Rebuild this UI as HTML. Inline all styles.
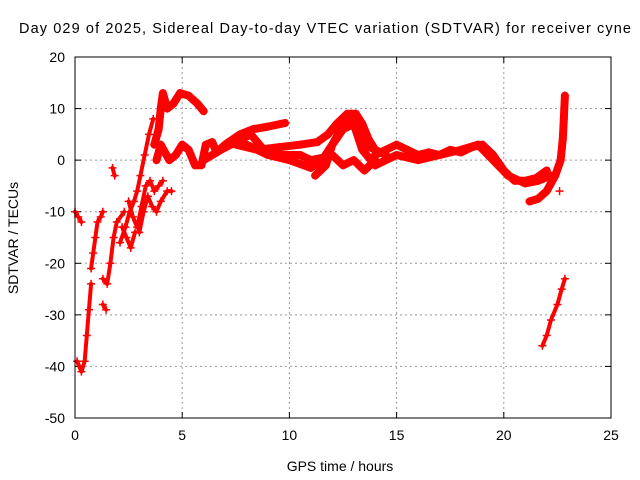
<!DOCTYPE html>
<html><head><meta charset="utf-8"><style>
body{margin:0;background:#fff}
svg{display:block;font-family:"Liberation Sans",sans-serif}
</style></head><body>
<svg id="c" width="640" height="480">
<text x="19" y="33" font-size="14.5" textLength="612" lengthAdjust="spacing">Day 029 of 2025, Sidereal Day-to-day VTEC variation (SDTVAR) for receiver cyne</text>
<text x="340" y="471" font-size="14" text-anchor="middle">GPS time / hours</text>
<text transform="translate(18,238) rotate(-90)" font-size="14" text-anchor="middle">SDTVAR / TECUs</text>
<g id="grid"></g><g id="marks"></g>
<rect x="75" y="57" width="536" height="361" fill="none" stroke="#000" stroke-width="1"/>
</svg>
<script>
const xTicks=[0,5,10,15,20,25];
const yTicks=[20,10,0,-10,-20,-30,-40,-50];
const trackEarly1=[[0,-10],[0.15,-11],[0.3,-12]];
const trackEarly2=[[0.1,-39],[0.3,-41],[0.45,-39],[0.55,-34],[0.65,-29],[0.75,-24]];
const trackEarly3=[[0.75,-21],[0.85,-18],[0.95,-15],[1.05,-12],[1.2,-11],[1.3,-10]];
const trackEarly4=[[1.3,-23],[1.5,-24],[1.65,-20],[1.8,-15],[1.95,-12],[2.3,-10]];
const trackEarly5=[[1.3,-28],[1.45,-29]];
const trackEarly6=[[1.75,-1.5],[1.85,-3]];
const trackEarly7=[[2.1,-16],[2.35,-13],[2.55,-10],[2.75,-8],[2.9,-6],[3.05,-3],[3.25,1],[3.45,5],[3.65,8]];
const trackEarly8=[[3.0,-14],[3.2,-10],[3.4,-7],[3.6,-9],[3.8,-10],[4.0,-8],[4.3,-6],[4.5,-6]];
const trackEarly11=[[2.5,-8],[2.7,-11],[2.9,-13],[3.1,-9],[3.3,-5],[3.5,-4],[3.7,-6],[3.9,-5],[4.1,-4]];
const trackEarly12=[[2.2,-13],[2.4,-15],[2.6,-17],[2.8,-14]];
const trackEarly9=[[3.7,3],[3.9,6],[4.0,10],[4.1,13],[4.3,10],[4.6,11],[4.9,13],[5.3,12.5],[5.7,11],[6.0,9.5]];
const trackEarly10=[[3.8,0],[4.0,3],[4.4,0],[4.7,1],[5.0,3],[5.3,2],[5.6,-1],[5.9,-1],[6.1,3],[6.4,3.5],[6.6,1.5]];
const trackA=[[6.6,1.5],[7.0,3],[7.7,5],[8.3,6],[9.0,6.5],[9.8,7.2]];
const trackB=[[6.0,0],[6.8,2],[7.5,3.5],[8.2,5],[8.8,2],[9.5,1],[10.5,1],[11.0,0],[11.6,0.5],[12.0,3],[12.4,6],[12.8,8],[13.2,6],[13.5,3],[14.0,2],[14.5,1]];
const trackC=[[7.5,3],[8.5,2],[9.5,2.5],[10.5,3],[11.3,3.5],[11.8,5],[12.2,7],[12.7,9],[13.1,9],[13.4,7],[13.7,4],[14.0,2]];
const trackD=[[8.0,3],[9.0,1],[10.0,0],[11.0,-1.5],[11.5,0],[12.0,1],[12.5,-1],[13.0,0],[13.5,-2],[14.0,0]];
const trackE=[[11.2,-3],[11.7,-1],[12.0,3],[12.5,6],[13.0,7],[13.4,2],[14.0,-1]];
const trackF=[[14.0,1],[14.5,2],[15.0,3],[15.5,2],[16.0,1],[16.5,1.5],[17.0,1],[17.5,2],[18.0,1.5],[18.5,2.5],[19.0,3],[19.5,1],[20.0,-2],[20.5,-4],[21.0,-4],[21.5,-3.5],[22.0,-2]];
const trackG=[[14.0,-1],[15.0,1],[16.0,0],[17.0,1],[18.0,2],[18.8,3],[19.5,0],[20.2,-3],[21.0,-4.5],[21.6,-4],[22.2,-3]];
const trackH=[[21.2,-8],[21.6,-7.5],[22.0,-6],[22.4,-3],[22.65,0],[22.75,4],[22.8,8],[22.85,12.5]];
const trackI=[[22.6,-6]];
const trackJ=[[21.8,-36],[22.0,-34],[22.2,-31],[22.5,-28],[22.7,-25],[22.85,-23]];
const thinTracks=[trackEarly1,trackEarly2,trackEarly3,trackEarly4,trackEarly5,trackEarly6,trackEarly7,trackEarly8,trackEarly11,trackEarly12,trackI,trackJ];
const thickTracks=[trackEarly9,trackEarly10,trackA,trackB,trackC,trackD,trackE,trackF,trackG,trackH];
const X0=75,X1=611,Y0=418,Y1=57;
function sx(h){return X0+(h-0)/(25-0)*(X1-X0);}
function sy(v){return Y0-(v+50)/70*(Y0-Y1);}
const NS="http://www.w3.org/2000/svg";
const grid=document.getElementById('grid'),marks=document.getElementById('marks');
function mk(t,a,p){const e=document.createElementNS(NS,t);for(const k in a)e.setAttribute(k,a[k]);p.appendChild(e);return e;}
xTicks.forEach(t=>{const x=sx(t);
 if(t>0&&t<25){const l=mk('line',{x1:x,x2:x,y1:Y1,y2:Y0,stroke:'#999','stroke-dasharray':'2,3'},grid);
 
 }
 mk('line',{x1:x,x2:x,y1:Y0,y2:Y0-6,stroke:'#000'},grid);
 mk('line',{x1:x,x2:x,y1:Y1,y2:Y1+6,stroke:'#000'},grid);
 const tx=mk('text',{x:x,y:Y0+22,'font-size':14,'text-anchor':'middle'},grid);tx.textContent=t;
 
 
});
yTicks.forEach(t=>{const y=sy(t);
 if(t>-50&&t<20){const l=mk('line',{x1:X0,x2:X1,y1:y,y2:y,stroke:'#999','stroke-dasharray':'2,3'},grid);
 
 }
 mk('line',{x1:X0,x2:X0+6,y1:y,y2:y,stroke:'#000'},grid);
 mk('line',{x1:X1,x2:X1-6,y1:y,y2:y,stroke:'#000'},grid);
 const tx=mk('text',{x:X0-10,y:y+5,'font-size':14,'text-anchor':'end'},grid);tx.textContent=t;
 
 
});
function drawTrack(tr,w){
 if(tr.length>1){const pl=mk('polyline',{points:tr.map(p=>sx(p[0])+','+sy(p[1])).join(' '),fill:'none',stroke:'#f00','stroke-width':w,'stroke-linejoin':'round','stroke-linecap':'round'},marks);
 
 }
 tr.forEach(p=>{const x=sx(p[0]),y=sy(p[1]);
  const m=mk('path',{d:`M${x-4},${y}h8M${x},${y-4}v8`,stroke:'#f00','stroke-width':1.5},marks);
  
  });
}
thinTracks.forEach(t=>drawTrack(t,4));
thickTracks.forEach(t=>drawTrack(t,8));
</script>
</body></html>
